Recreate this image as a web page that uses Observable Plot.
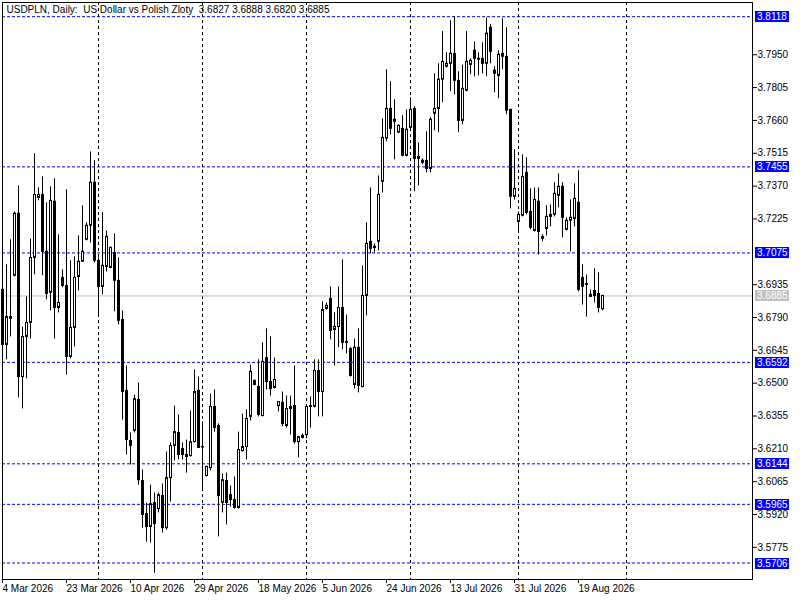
<!DOCTYPE html>
<html><head><meta charset="utf-8">
<script src="https://cdn.jsdelivr.net/npm/d3@7"></script>
<script src="https://cdn.jsdelivr.net/npm/@observablehq/plot@0.6"></script>
<style>
html,body{margin:0;padding:0;background:#fff;}
svg text{white-space:pre;}
</style></head><body><div id="chart"></div>
<script>
const title = "USDPLN, Daily:  US Dollar vs Polish Zloty  3.6827 3.6888 3.6820 3.6885";

const opens = [3.6912,3.6669,3.6784,3.6974,3.7248,3.6527,3.6704,3.6766,3.7053,3.7318,
3.7331,3.7080,3.6899,3.7301,3.6832,3.6965,3.6929,3.6616,3.6744,3.6969,
3.7036,3.7133,3.7195,3.7385,3.7040,3.6925,3.7013,3.7009,3.7075,3.6952,
3.6779,3.6466,3.6245,3.6289,3.6426,3.6068,3.5922,3.5865,3.5971,3.5944,
3.6002,3.5860,3.6081,3.6223,3.6280,3.6209,3.6183,3.6178,3.6240,3.6466,
3.6218,3.6090,3.6125,3.6395,3.6311,3.5971,3.6068,3.6006,3.5984,3.5949,
3.6200,3.6218,3.6351,3.6510,3.6483,3.6355,3.6611,3.6505,3.6479,3.6399,
3.6413,3.6311,3.6395,3.6399,3.6240,3.6258,3.6271,3.6395,3.6395,3.6554,
3.6461,3.6828,3.6872,3.6735,3.6748,3.6832,3.6682,3.6651,3.6492,3.6656,
3.6483,3.6885,3.7124,3.7102,3.7124,3.7389,3.7579,3.7711,3.7663,3.7606,
3.7623,3.7504,3.7627,3.7711,3.7490,3.7473,3.7482,3.7446,3.7689,3.7711,
3.7840,3.7897,3.7910,3.7954,3.7835,3.7658,3.7791,3.7905,3.7968,3.7932,
3.7932,3.7910,3.8069,3.7880,3.7857,3.7954,3.7941,3.7707,3.7323,3.7212,
3.7239,3.7429,3.7256,3.7172,3.7301,3.7137,3.7181,3.7234,3.7243,3.7327,
3.7367,3.7177,3.7217,3.7225,3.7296,3.6965,3.6938,3.6890,3.6907,3.6894,
3.6827];

const highs = [3.6934,3.7022,3.7133,3.7256,3.7371,3.6748,3.6881,3.7137,3.7513,3.7362,
3.7411,3.7296,3.7367,3.7402,3.7155,3.7000,3.7354,3.7040,3.7058,3.7150,
3.7283,3.7208,3.7521,3.7482,3.7053,3.7252,3.7172,3.7102,3.7159,3.7053,
3.6819,3.6576,3.6280,3.6448,3.6501,3.6117,3.5971,3.6050,3.6015,3.6015,
3.6055,3.6196,3.6236,3.6399,3.6360,3.6236,3.6249,3.6377,3.6558,3.6527,
3.6329,3.6134,3.6452,3.6470,3.6320,3.6099,3.6103,3.6046,3.6086,3.6284,
3.6364,3.6382,3.6580,3.6514,3.6603,3.6678,3.6740,3.6704,3.6611,3.6417,
3.6461,3.6443,3.6443,3.6576,3.6262,3.6276,3.6395,3.6439,3.6603,3.6603,
3.6859,3.6854,3.6925,3.6810,3.6925,3.7044,3.6801,3.6656,3.6695,3.6740,
3.7018,3.7208,3.7362,3.7115,3.7415,3.7667,3.7884,3.7831,3.7751,3.7641,
3.7681,3.7707,3.7760,3.7720,3.7561,3.7490,3.7610,3.7672,3.7866,3.7910,
3.8052,3.7959,3.8100,3.8118,3.7875,3.7905,3.8052,3.7932,3.8007,3.7959,
3.8003,3.8112,3.8083,3.7897,3.7968,3.8109,3.8069,3.7707,3.7530,3.7256,
3.7508,3.7495,3.7358,3.7362,3.7362,3.7155,3.7283,3.7287,3.7385,3.7424,
3.7385,3.7230,3.7309,3.7380,3.7438,3.7022,3.6978,3.6912,3.7005,3.6987,
3.6888];

const lows = [3.6647,3.6603,3.6704,3.6969,3.6435,3.6386,3.6519,3.6695,3.6978,3.7305,
3.6974,3.6868,3.6819,3.6695,3.6810,3.6921,3.6536,3.6607,3.6660,3.6907,
3.7036,3.7128,3.7119,3.7031,3.6792,3.6890,3.6991,3.7005,3.6815,3.6757,
3.6337,3.6183,3.6139,3.6280,3.6050,3.5860,3.5798,3.5794,3.5661,3.5927,
3.5838,3.5851,3.5975,3.6156,3.6161,3.6161,3.6103,3.6174,3.6236,3.6214,
3.6028,3.6086,3.6112,3.6284,3.5821,3.5927,3.5874,3.5953,3.5944,3.5944,
3.6196,3.6161,3.6333,3.6488,3.6351,3.6351,3.6470,3.6443,3.6474,3.6373,
3.6307,3.6302,3.6271,3.6231,3.6170,3.6254,3.6254,3.6302,3.6390,3.6351,
3.6351,3.6823,3.6691,3.6576,3.6656,3.6647,3.6629,3.6527,3.6474,3.6457,
3.6479,3.6797,3.7071,3.7075,3.7084,3.7340,3.7566,3.7597,3.7486,3.7601,
3.7499,3.7499,3.7619,3.7345,3.7371,3.7464,3.7429,3.7429,3.7614,3.7606,
3.7738,3.7892,3.7787,3.7773,3.7606,3.7641,3.7787,3.7862,3.7853,3.7857,
3.7866,3.7853,3.7910,3.7782,3.7756,3.7884,3.7685,3.7269,3.7309,3.7168,
3.7234,3.7243,3.7177,3.7168,3.7066,3.7124,3.7150,3.7190,3.7234,3.7274,
3.7142,3.7172,3.7080,3.7190,3.6903,3.6845,3.6792,3.6881,3.6854,3.6810,
3.6820];

const closes = [3.6669,3.6792,3.6792,3.7248,3.6527,3.6704,3.6766,3.7053,3.7331,3.7331,
3.7080,3.6894,3.7305,3.6832,3.6854,3.6929,3.6616,3.6744,3.6965,3.7036,
3.7080,3.7195,3.7385,3.7040,3.6925,3.7018,3.7146,3.7097,3.6952,3.6775,
3.6461,3.6249,3.6223,3.6430,3.6072,3.5918,3.5865,3.5966,3.5878,3.6006,
3.5860,3.6081,3.6223,3.6284,3.6183,3.6183,3.6174,3.6240,3.6461,3.6214,
3.6216,3.6130,3.6395,3.6302,3.6002,3.6072,3.5971,3.5984,3.5949,3.6205,
3.6218,3.6342,3.6550,3.6492,3.6360,3.6594,3.6505,3.6474,3.6514,3.6417,
3.6320,3.6386,3.6386,3.6240,3.6262,3.6267,3.6395,3.6399,3.6554,3.6461,
3.6823,3.6841,3.6731,3.6748,3.6832,3.6678,3.6678,3.6532,3.6656,3.6488,
3.6885,3.7115,3.7093,3.7097,3.7331,3.7583,3.7711,3.7623,3.7654,3.7636,
3.7504,3.7619,3.7707,3.7490,3.7499,3.7482,3.7446,3.7663,3.7711,3.7840,
3.7919,3.7910,3.7954,3.7835,3.7658,3.7800,3.7919,3.7923,3.7932,3.7928,
3.7910,3.8043,3.7963,3.7866,3.7950,3.7941,3.7703,3.7323,3.7358,3.7243,
3.7411,3.7252,3.7186,3.7309,3.7168,3.7146,3.7234,3.7243,3.7336,3.7367,
3.7230,3.7217,3.7230,3.7314,3.6912,3.6925,3.6934,3.6881,3.6885,3.6832,
3.6885];

const xLabelIdx = [0,16,32,48,64,80,96,112,128,144];
const xLabels = ["4 Mar 2026","23 Mar 2026","10 Apr 2026","29 Apr 2026","18 May 2026","5 Jun 2026","24 Jun 2026","13 Jul 2026","31 Jul 2026","19 Aug 2026"];
const monthStartIdx = [24,50,76,102,129,156];
const levels = [3.8118,3.7455,3.7075,3.6592,3.6144,3.5965,3.5706];
const bidPrice = 3.6885;
// 3.8095 and 3.7080 sit under the 3.8118 / 3.7075 level labels in the reference
const yTicks = [3.7950,3.7805,3.7660,3.7515,3.7370,3.7225,3.6935,3.6790,3.6645,3.6500,3.6355,3.6210,3.6065,3.5920,3.5775];

const candles = opens.map((o,i)=>({i, open:o, high:highs[i], low:lows[i], close:closes[i], up: closes[i] > o}));
const upC = candles.filter(d=>d.up), downC = candles.filter(d=>!d.up);

const font = "'Liberation Sans', Arial, sans-serif";
const chart = Plot.plot({
  width:800, height:600,
  marginLeft:2, marginRight:48, marginTop:2, marginBottom:21,
  style:{fontFamily:font, fontSize:"10px", background:"#fff", color:"#000", overflow:"visible"},
  x:{type:"linear", domain:[0,187.5]},
  y:{domain:[3.56332,3.81807]},
  marks:[
    Plot.ruleX(monthStartIdx,{stroke:"#000", strokeDasharray:"3,3"}),
    Plot.ruleY(levels,{stroke:"#0000ff", strokeDasharray:"3,2"}),
    Plot.ruleY([bidPrice],{stroke:"#c0c0c0"}),
    Plot.ruleX(candles,{x:"i", y1:"low", y2:"high", stroke:"#000"}),
    Plot.rect(downC,{x1:d=>d.i-0.25, x2:d=>d.i+0.5, y1:"open", y2:"close", fill:"#000", insetTop:-0.5, insetBottom:-0.5}),
    Plot.rect(upC,{x1:d=>d.i-0.125, x2:d=>d.i+0.375, y1:"open", y2:"close", fill:"#fff", stroke:"#000"}),
    Plot.frame({stroke:"#000"}),
    Plot.axisY(yTicks,{anchor:"right", tickSize:4, tickPadding:1, tickFormat:d=>d.toFixed(4), label:null}),
    Plot.axisX(xLabelIdx,{anchor:"bottom", tickSize:4, tickPadding:1, tickFormat:d=>xLabels[xLabelIdx.indexOf(d)], textAnchor:"start", label:null}),
    Plot.text([title],{frameAnchor:"top-left", dx:4, dy:3, lineAnchor:"top", textAnchor:"start"})
  ]
});
document.getElementById("chart").appendChild(chart);

// price labels on the right axis, positioned with the chart's own y scale
const ys = chart.scale("y");
const svg = d3.select(chart);
const lab = svg.append("g").attr("text-anchor","start");
const addLabel = (v, col) => {
  const y = Math.round(ys.apply(v));
  lab.append("rect").attr("x",755).attr("y",y-5).attr("width",34).attr("height",11).attr("fill",col);
  lab.append("text").attr("x",757).attr("y",y+0.5).attr("dy","0.32em").attr("fill","#fff")
     .attr("text-anchor","start").attr("font-family",font).attr("font-size","10px").text(v.toFixed(4));
};
levels.forEach(v => addLabel(v, "#0000ff"));
addLabel(bidPrice, "#c0c0c0");
</script></body></html>
